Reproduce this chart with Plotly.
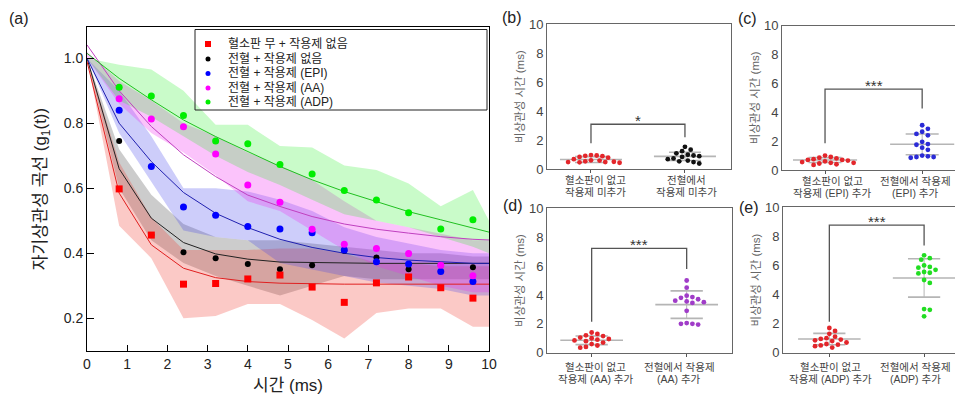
import numpy as np
import plotly.graph_objects as go

# The page body adds an 8px margin, so the figure is sized/placed to compensate.
SCREEN_W, SCREEN_H, OFF = 963, 405, 8
W, H = SCREEN_W - OFF, SCREEN_H - OFF
FONT = "Arial, Liberation Sans, Noto Sans CJK KR"

# ---------------- Panel (a) data ----------------
t_pts = [0.8, 1.6, 2.4, 3.2, 4.0, 4.8, 5.6, 6.4, 7.2, 8.0, 8.8, 9.6]
g_noplt = [0.598, 0.456, 0.305, 0.307, 0.321, 0.333, 0.296, 0.249, 0.309, 0.327, 0.294, 0.262]
g_none = [0.745, 0.456, 0.403, 0.385, 0.367, 0.351, 0.363, 0.408, 0.387, 0.351, 0.363, 0.357]
g_epi = [0.840, 0.667, 0.542, 0.517, 0.482, 0.475, 0.463, 0.410, 0.374, 0.367, 0.344, 0.313]
g_aa = [0.875, 0.813, 0.789, 0.705, 0.610, 0.557, 0.474, 0.428, 0.415, 0.399, 0.363, 0.331]
g_adp = [0.911, 0.884, 0.824, 0.745, 0.737, 0.673, 0.644, 0.593, 0.564, 0.525, 0.475, 0.503]

t_grid = [0, 0.8, 1.6, 2.4, 3.2, 4.0, 4.8, 5.6, 6.4, 7.2, 8.0, 8.8, 9.6, 10]
fit_noplt = [0.99, 0.585, 0.426, 0.354, 0.325, 0.313, 0.308, 0.306, 0.305, 0.305, 0.305, 0.305, 0.305, 0.305]
fit_none = [1.0, 0.66, 0.508, 0.433, 0.398, 0.382, 0.373, 0.371, 0.370, 0.369, 0.369, 0.369, 0.369, 0.369]
fit_epi = [1.0, 0.80, 0.682, 0.587, 0.523, 0.479, 0.443, 0.418, 0.400, 0.387, 0.379, 0.373, 0.369, 0.369]
fit_aa = [1.041, 0.90, 0.79, 0.703, 0.636, 0.579, 0.544, 0.513, 0.490, 0.474, 0.462, 0.451, 0.443, 0.441]
fit_adp = [1.015, 0.938, 0.872, 0.81, 0.759, 0.713, 0.667, 0.626, 0.59, 0.559, 0.528, 0.503, 0.477, 0.465]

band_noplt_hi = [1.0, 0.68, 0.51, 0.41, 0.41, 0.41, 0.415, 0.415, 0.40, 0.37, 0.37, 0.36, 0.36, 0.36]
band_noplt_lo = [1.0, 0.485, 0.385, 0.20, 0.207, 0.244, 0.244, 0.195, 0.138, 0.216, 0.23, 0.23, 0.174, 0.174]
band_none_hi = [1.0, 0.72, 0.58, 0.49, 0.45, 0.44, 0.44, 0.43, 0.42, 0.41, 0.40, 0.40, 0.39, 0.39]
band_none_lo = [1.0, 0.60, 0.44, 0.37, 0.33, 0.30, 0.27, 0.30, 0.33, 0.32, 0.32, 0.32, 0.32, 0.32]
band_epi_hi = [1.0, 0.90, 0.76, 0.60, 0.60, 0.59, 0.565, 0.53, 0.48, 0.45, 0.43, 0.41, 0.40, 0.40]
band_epi_lo = [1.0, 0.77, 0.62, 0.47, 0.45, 0.44, 0.37, 0.35, 0.33, 0.31, 0.30, 0.29, 0.27, 0.27]
band_aa_hi = [1.02, 0.93, 0.87, 0.80, 0.76, 0.71, 0.67, 0.625, 0.56, 0.50, 0.48, 0.46, 0.44, 0.44]
band_aa_lo = [1.0, 0.86, 0.77, 0.71, 0.64, 0.56, 0.53, 0.47, 0.41, 0.36, 0.33, 0.30, 0.28, 0.28]
band_adp_hi = [1.0, 0.98, 0.965, 0.90, 0.795, 0.795, 0.73, 0.725, 0.67, 0.656, 0.615, 0.545, 0.595, 0.50]
band_adp_lo = [1.0, 0.87, 0.82, 0.76, 0.70, 0.65, 0.61, 0.565, 0.52, 0.50, 0.48, 0.45, 0.42, 0.40]

legend_labels = ["혈소판 무 + 작용제 없음", "전혈 + 작용제 없음", "전혈 + 작용제 (EPI)",
                 "전혈 + 작용제 (AA)", "전혈 + 작용제 (ADP)"]

# ---------------- Panels (b)-(e) data ----------------
tau_b_ctrl = [0.98, 0.95, 0.93, 0.90, 0.85, 0.80, 0.70, 0.62, 0.60, 0.55, 0.52, 0.50, 0.50, 0.48, 0.45]
tau_b_none = [1.55, 1.35, 1.25, 1.10, 1.00, 0.95, 0.90, 0.85, 0.75, 0.70, 0.60, 0.55, 0.50, 0.40]
mean_b = [0.67, 0.89]
sd_b = [0.20, 0.28]

tau_c_ctrl = [1.00, 0.90, 0.85, 0.80, 0.75, 0.70, 0.70, 0.65, 0.60, 0.55, 0.50, 0.50, 0.45, 0.40, 0.35]
tau_c_epi = [3.10, 2.85, 2.65, 2.50, 2.40, 1.95, 1.80, 1.75, 1.55, 1.40, 1.00, 0.95, 0.90, 0.90, 0.85]
mean_c = [0.69, 1.78]
sd_c = [0.17, 0.72]

tau_d_ctrl = [1.40, 1.30, 1.20, 1.15, 1.05, 1.00, 0.95, 0.90, 0.85, 0.80, 0.70, 0.60, 0.50, 0.40, 0.35]
tau_d_aa = [5.00, 4.50, 3.95, 3.85, 3.80, 3.70, 3.60, 3.55, 3.50, 3.45, 2.90, 2.05, 2.00, 2.00, 1.95]
mean_d = [0.86, 3.33]
sd_d = [0.30, 0.95]

tau_e_ctrl = [1.70, 1.50, 1.30, 1.10, 1.00, 0.95, 0.90, 0.85, 0.80, 0.70, 0.60, 0.55, 0.50, 0.45, 0.35]
tau_e_adp = [6.70, 6.50, 6.40, 6.00, 5.90, 5.85, 5.70, 5.55, 5.50, 5.45, 5.00, 4.80, 3.00, 2.95, 2.50]
mean_e = [0.94, 5.14]
sd_e = [0.39, 1.32]

# bracket: [top, left leg end, right leg end]
bracket_b = [3.1, 1.8, 2.2]
bracket_c = [5.6, 1.85, 4.27]
bracket_d = [7.23, 2.15, 5.8]
bracket_e = [8.78, 2.13, 7.38]
stars = ["*", "***", "***", "***"]

cats_b = [["혈소판이 없고", "작용제 미추가"], ["전혈에서", "작용제 미추가"]]
cats_c = [["혈소판이 없고", "작용제 (EPI) 추가"], ["전혈에서 작용제", "(EPI) 추가"]]
cats_d = [["혈소판이 없고", "작용제 (AA) 추가"], ["전혈에서 작용제", "(AA) 추가"]]
cats_e = [["혈소판이 없고", "작용제 (ADP) 추가"], ["전혈에서 작용제", "(ADP) 추가"]]

# ---------------- helpers (screen pixels -> paper) ----------------
def px(x):
    return (x - OFF) / W

def py(y):
    return 1 - (y - OFF) / H

def rgba(c, a):
    return "rgba(%d,%d,%d,%.3f)" % (c[0], c[1], c[2], a)

fig = go.Figure()

# ---------- panel (a) ----------
series = [
    ("none", g_none, fit_none, band_none_hi, band_none_lo, (0, 0, 0), "#000000", "#222222", "circle", 6),
    ("noplt", g_noplt, fit_noplt, band_noplt_hi, band_noplt_lo, (240, 60, 50), "#ff0000", "#e02020", "square", 7),
    ("epi", g_epi, fit_epi, band_epi_hi, band_epi_lo, (60, 60, 235), "#0000ff", "#2020b0", "circle", 7),
    ("aa", g_aa, fit_aa, band_aa_hi, band_aa_lo, (240, 40, 240), "#ff00ff", "#c040c0", "circle", 7),
    ("adp", g_adp, fit_adp, band_adp_hi, band_adp_lo, (40, 240, 40), "#00ee00", "#20c020", "circle", 7),
]
band_alpha = {"none": 0.2, "noplt": 0.28, "epi": 0.26, "aa": 0.28, "adp": 0.25}
for name, pts, fit, hi, lo, bc, mc, lc, sym, sz in series:
    fig.add_trace(go.Scatter(
        x=list(t_grid) + list(t_grid[::-1]), y=list(hi) + list(lo[::-1]),
        fill="toself", fillcolor=rgba(bc, band_alpha[name]), line=dict(width=0),
        mode="lines", hoverinfo="skip", showlegend=False, xaxis="x", yaxis="y"))
for name, pts, fit, hi, lo, bc, mc, lc, sym, sz in series:
    fig.add_trace(go.Scatter(x=t_grid, y=fit, mode="lines", line=dict(color=lc, width=1),
                             showlegend=False, xaxis="x", yaxis="y"))
for name, pts, fit, hi, lo, bc, mc, lc, sym, sz in series:
    fig.add_trace(go.Scatter(x=t_pts, y=pts, mode="markers",
                             marker=dict(color=mc, symbol=sym, size=sz, line=dict(width=0)),
                             showlegend=False, xaxis="x", yaxis="y"))

# ---------- panels (b)-(e) ----------
def swarm(vals, ppx, ppy, d=5.2):
    vals = np.asarray(vals, float)
    order = np.argsort(-vals)
    placed = []
    offs = np.zeros(len(vals))
    step = d * 0.55
    for i in order:
        yv = vals[i] * ppy
        k = 0
        while True:
            cands = [0.0] if k == 0 else [k * step, -k * step]
            ok = None
            for c in cands:
                if all((c - ox) ** 2 + (yv - oy) ** 2 >= d * d for ox, oy in placed):
                    ok = c
                    break
            if ok is not None:
                offs[i] = ok
                placed.append((ok, yv))
                break
            k += 1
    return offs / ppx

panels = [
    dict(n="2", g=[tau_b_ctrl, tau_b_none], m=mean_b, s=sd_b, col=["#e3262b", "#111111"], cats=cats_b,
         cx=[595, 686], cy=[180, 192], br=bracket_b, star=stars[0], xd=(547, 731), yd=(24, 169.3),
         xr=(0.532, 2.49), lab="(b)", lp=(512, 17)),
    dict(n="3", g=[tau_c_ctrl, tau_c_epi], m=mean_c, s=sd_c, col=["#e3262b", "#2b2bd6"], cats=cats_c,
         cx=[832, 915], cy=[181, 193], br=bracket_c, star=stars[1], xd=(782, 962), yd=(25.7, 170),
         xr=(0.557, 2.41), lab="(c)", lp=(747, 18)),
    dict(n="4", g=[tau_d_ctrl, tau_d_aa], m=mean_d, s=sd_d, col=["#e3262b", "#a03cc8"], cats=cats_d,
         cx=[595, 679], cy=[366.5, 378.5], br=bracket_d, star=stars[2], xd=(547, 732), yd=(208.3, 352.7),
         xr=(0.53, 2.477), lab="(d)", lp=(513, 205)),
    dict(n="5", g=[tau_e_ctrl, tau_e_adp], m=mean_e, s=sd_e, col=["#e3262b", "#22dd22"], cats=cats_e,
         cx=[830, 915], cy=[366.5, 378.5], br=bracket_e, star=stars[3], xd=(783, 962), yd=(207.3, 352.7),
         xr=(0.511, 2.40), lab="(e)", lp=(749, 207)),
]

GREY = "#b5b5b5"
layout_axes = {}
annotations = []
for p in panels:
    n = p["n"]
    xa, ya = "x" + n, "y" + n
    ppx = (p["xd"][1] - p["xd"][0]) / (p["xr"][1] - p["xr"][0])
    ppy = (p["yd"][1] - p["yd"][0]) / 10.0
    for gi in range(2):
        c = gi + 1
        m, s = p["m"][gi], p["s"][gi]
        fig.add_trace(go.Scatter(x=[c, c], y=[m - s, m + s], mode="lines",
                                 line=dict(color=GREY, width=1), showlegend=False, xaxis=xa, yaxis=ya))
        fig.add_trace(go.Scatter(x=[c - 0.33, c + 0.33], y=[m, m], mode="lines",
                                 line=dict(color=GREY, width=1.6), showlegend=False, xaxis=xa, yaxis=ya))
        fig.add_trace(go.Scatter(x=[c - 0.17, c + 0.17, None, c - 0.17, c + 0.17],
                                 y=[m + s, m + s, None, m - s, m - s], mode="lines",
                                 line=dict(color=GREY, width=1.6), showlegend=False, xaxis=xa, yaxis=ya))
    for gi in range(2):
        vals = p["g"][gi]
        offs = swarm(vals, ppx, ppy)
        fig.add_trace(go.Scatter(x=list(np.array(offs) + gi + 1), y=vals, mode="markers",
                                 marker=dict(color=p["col"][gi], size=4.8, line=dict(width=0)),
                                 showlegend=False, xaxis=xa, yaxis=ya))
    top, l_end, r_end = p["br"]
    fig.add_trace(go.Scatter(x=[1, 1, 2, 2], y=[l_end, top, top, r_end], mode="lines",
                             line=dict(color="#555555", width=1.3), showlegend=False, xaxis=xa, yaxis=ya))
    annotations.append(dict(x=1.5, y=top, xref=xa, yref=ya, text=p["star"], showarrow=False,
                            yanchor="bottom", yshift=-7, font=dict(size=15, color="#333333", family=FONT)))
    for gi in range(2):
        for li in range(2):
            annotations.append(dict(x=px(p["cx"][gi]), y=py(p["cy"][li]), xref="paper", yref="paper",
                                    text=p["cats"][gi][li], showarrow=False, xanchor="center",
                                    yanchor="middle", font=dict(size=10.5, color="#444444", family=FONT)))
    layout_axes["xaxis" + n] = dict(domain=[px(p["xd"][0]), px(p["xd"][1])], range=list(p["xr"]),
                                    anchor=ya, tickvals=[1, 2], showticklabels=False, ticks="outside",
                                    ticklen=3, tickcolor="#555", showline=True, mirror=True,
                                    linecolor="#666666", linewidth=1, showgrid=False, zeroline=False,
                                    automargin=False)
    layout_axes["yaxis" + n] = dict(domain=[py(p["yd"][1]), py(p["yd"][0])], range=[0, 10],
                                    anchor=xa, tickvals=[0, 2, 4, 6, 8, 10], ticks="", showline=True,
                                    mirror=True, linecolor="#666666", linewidth=1, showgrid=False,
                                    zeroline=False, automargin=False,
                                    tickfont=dict(size=13, color="#444444", family=FONT),
                                    title=dict(text="비상관성 시간 (ms)", standoff=1,
                                               font=dict(size=11.5, color="#666666", family=FONT)))
    annotations.append(dict(x=px(p["lp"][0]), y=py(p["lp"][1]), xref="paper", yref="paper",
                            text=p["lab"], showarrow=False, xanchor="center", yanchor="middle",
                            font=dict(size=16, color="#222222", family=FONT)))

annotations.append(dict(x=px(19), y=py(18), xref="paper", yref="paper", text="(a)", showarrow=False,
                        xanchor="center", yanchor="middle", font=dict(size=16, color="#222222", family=FONT)))

shapes = [dict(type="rect", xref="paper", yref="paper", x0=px(195), x1=px(487), y0=py(110), y1=py(29.5),
               line=dict(color="#222222", width=1), fillcolor="rgba(255,255,255,0)")]
leg_rows = [44, 59, 73.5, 88, 102]
leg_cols = ["#ff0000", "#000000", "#0000ff", "#ff00ff", "#00ee00"]
for i, (lbl, yy, cc) in enumerate(zip(legend_labels, leg_rows, leg_cols)):
    if i == 0:
        shapes.append(dict(type="rect", xref="paper", yref="paper", x0=px(205), x1=px(211),
                           y0=py(yy + 3), y1=py(yy - 3), fillcolor=cc, line=dict(width=0)))
    else:
        shapes.append(dict(type="circle", xref="paper", yref="paper", x0=px(205.5), x1=px(210.5),
                           y0=py(yy + 2.5), y1=py(yy - 2.5), fillcolor=cc, line=dict(width=0)))
    annotations.append(dict(x=px(226), y=py(yy), xref="paper", yref="paper", text=lbl, showarrow=False,
                            xanchor="left", yanchor="middle", font=dict(size=12, color="#222222", family=FONT)))

fig.update_layout(
    template="none",
    width=W, height=H, margin=dict(l=0, r=0, t=0, b=0, autoexpand=False),
    paper_bgcolor="white", plot_bgcolor="white", showlegend=False,
    font=dict(family=FONT),
    xaxis=dict(domain=[px(87), px(489)], range=[0, 10], anchor="y", tickvals=list(range(11)),
               ticks="inside", ticklen=6, tickcolor="#000", showline=True, mirror=True,
               linecolor="#000000", linewidth=1, showgrid=False, zeroline=False, automargin=False,
               tickfont=dict(size=14, color="#222222", family=FONT),
               title=dict(text="시간 (ms)", standoff=8, font=dict(size=17, color="#222222", family=FONT))),
    yaxis=dict(domain=[py(351), py(27)], range=[0.0994, 1.096], anchor="x",
               tickvals=[0.2, 0.4, 0.6, 0.8, 1.0], tickformat=".1f",
               ticks="inside", ticklen=7, tickcolor="#000", showline=True, mirror=True,
               linecolor="#000000", linewidth=1, showgrid=False, zeroline=False, automargin=False,
               tickfont=dict(size=14, color="#222222", family=FONT),
               title=dict(text="자기상관성 곡선 (g<sub>1</sub>(t))", standoff=12,
                          font=dict(size=17, color="#222222", family=FONT))),
    annotations=annotations, shapes=shapes,
    **layout_axes,
)

fig.write_html("out.html")
